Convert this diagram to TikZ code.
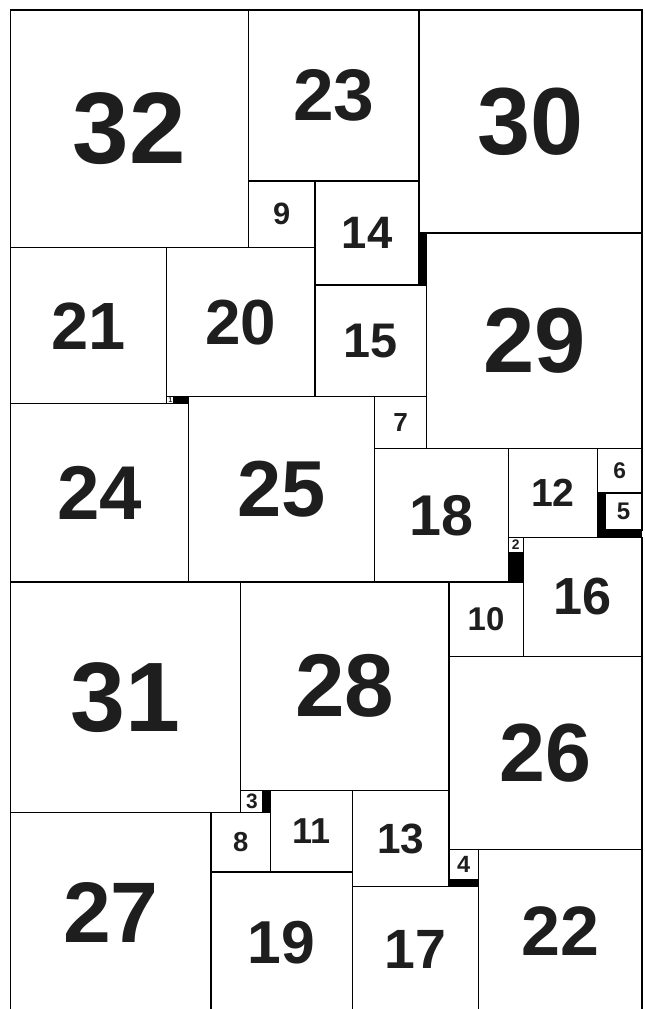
\documentclass[tikz,border=0pt]{standalone}
\usepackage{fontspec}
\setmainfont{Liberation Sans}
\definecolor{lbl}{RGB}{30,30,30}
\begin{document}
\begin{tikzpicture}[x={(1mm,0)},y={(0,-1mm)},
  sq/.style={draw=black,line width=0.5pt,rectangle,inner sep=0pt,text=lbl},
  gap/.style={fill=black,draw=none}]
\useasboundingbox[fill=white] (-1.41,-1.35) rectangle (85.4,134.45);
% gaps
\fill[gap] (55,30) rectangle (56,37);
\fill[gap] (22,52) rectangle (24,53);
\fill[gap] (79,65) rectangle (80,71);
\fill[gap] (80,70) rectangle (85,71);
\fill[gap] (67,73) rectangle (69,77);
\fill[gap] (34,105) rectangle (35,108);
\fill[gap] (59,117) rectangle (63,118);
% squares: x/y/n/fontsize(pt)
\foreach \x/\y/\n/\f in {
  0/0/32/38.9, 32/0/23/28, 55/0/30/36.5, 32/23/9/11.8, 41/23/14/17.4,
  56/30/29/35.3, 0/32/21/25.6, 21/32/20/24.4, 41/37/15/18.6, 21/52/1/2.7,
  0/53/24/29.2, 24/52/25/30.4, 49/52/7/10, 49/59/18/22, 67/59/12/15,
  79/59/6/8.7, 80/65/5/9.2, 67/71/2/5.3, 69/71/16/20, 59/77/10/12.6,
  0/77/31/37.8, 31/77/28/34.1, 59/87/26/31.6, 31/105/3/8, 35/105/11/13.8,
  46/105/13/16.2, 59/113/4/9, 63/113/22/26.8, 0/108/27/32.9, 27/108/8/10.5,
  27/116/19/23.2, 46/118/17/21.2}
{
  \node[sq,minimum width=\n mm,minimum height=\n mm,
        font=\fontsize{\f}{\f}\selectfont\bfseries]
        (s\n) at ({\x+\n/2},{\y+\n/2}) {\n};
}
\end{tikzpicture}
\end{document}
